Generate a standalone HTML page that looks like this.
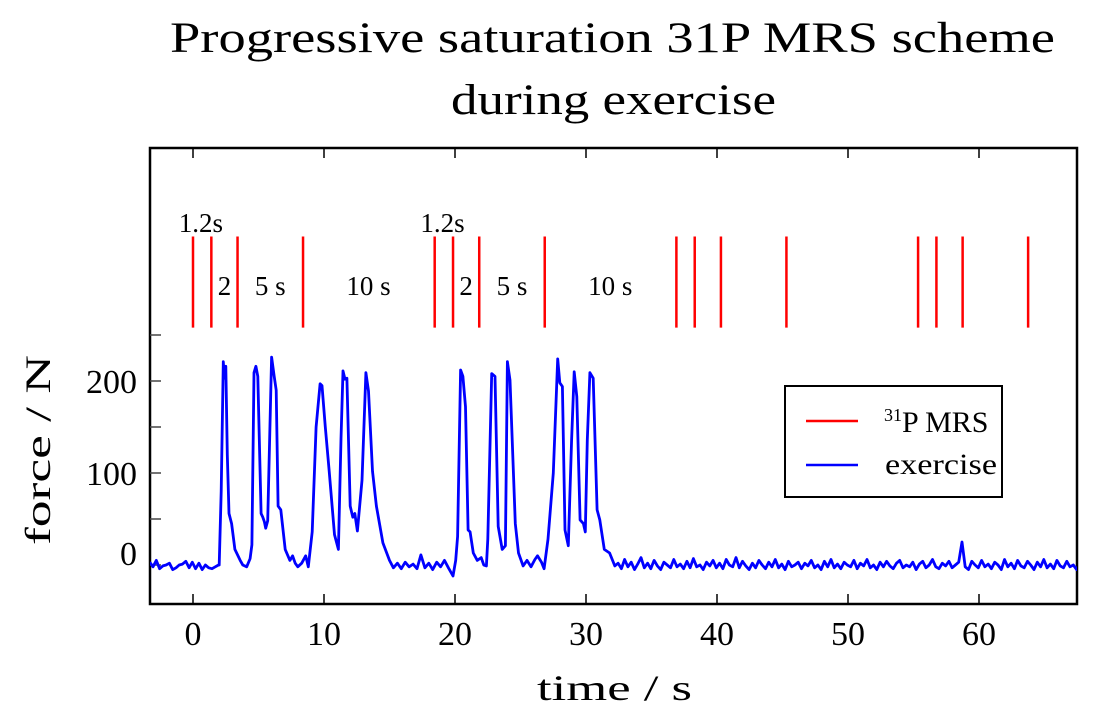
<!DOCTYPE html>
<html><head><meta charset="utf-8"><style>
body{margin:0;background:#fff;}
svg text{font-family:"Liberation Serif",serif;fill:#000;}
</style></head><body>
<svg id="chart" width="1111" height="720" xmlns="http://www.w3.org/2000/svg">
<text x="170" y="52" font-size="43" textLength="885" lengthAdjust="spacingAndGlyphs">Progressive saturation 31P MRS scheme</text>
<text x="451" y="114" font-size="43" textLength="325" lengthAdjust="spacingAndGlyphs">during exercise</text>
<g id="plot"></g>
<text x="537" y="700" font-size="36" textLength="155" lengthAdjust="spacingAndGlyphs">time / s</text>
<text transform="translate(50,545) rotate(-90)" font-size="36" textLength="190" lengthAdjust="spacingAndGlyphs">force / N</text>
<g>
<rect x="785" y="386" width="217" height="111" fill="#fff" stroke="#000" stroke-width="2"/>
<line x1="806" y1="421" x2="858" y2="421" stroke="#f00" stroke-width="2.5"/>
<text x="884" y="432" font-size="30"><tspan font-size="18" dy="-11">31</tspan><tspan dy="11">P MRS</tspan></text>
<line x1="806" y1="465" x2="858" y2="465" stroke="#00f" stroke-width="2.5"/>
<text x="885" y="474" font-size="30" textLength="112" lengthAdjust="spacingAndGlyphs">exercise</text>
</g>
</svg>
<script>
const xTicks = [0,10,20,30,40,50,60];
const yTicks = [0,100,200];
const yMinorTicks = [50,150,250];
const mrsTimes = [0,1.4,3.4,8.4,18.45,19.85,21.85,26.85,36.9,38.3,40.3,45.3,55.35,56.75,58.75,63.75];
const mrsLow = 258, mrsHigh = 357;
const annoTexts = ["1.2s","2","5 s","10 s","1.2s","2","5 s","10 s"];
const annoTimes = [0.6,2.4,5.9,13.4,19.05,20.85,24.35,31.85];
const annoVals = [372,303,303,303,372,303,303,303];
const headStart = -3.3, headStep = 0.25;
const headForce = [3,-2,5,-4,-1,0,2,-5,-3,0,1,4,-3,3,-4,2,-5,0,-3,-4,-2,0];
const mainTimes = [2.0,2.15,2.31,2.4,2.5,2.62,2.75,2.95,3.2,3.6,3.8,4.1,4.36,4.5,4.66,4.8,4.95,5.2,5.33,5.45,5.55,5.7,6.0,6.2,6.35,6.5,6.7,7.04,7.4,7.6,7.8,8.0,8.3,8.6,8.8,9.1,9.4,9.7,9.85,10.1,10.4,10.8,11.1,11.3,11.45,11.6,11.75,12.0,12.2,12.35,12.55,12.9,13.2,13.4,13.7,14.0,14.5,15.0,15.3,15.6,15.9,16.2,16.5,16.8,17.1,17.4,17.7,18.0,18.3,18.6,18.9,19.2,19.5,19.85,20.05,20.2,20.43,20.6,20.8,21.0,21.15,21.4,21.7,22.0,22.2,22.4,22.5,22.8,23.05,23.3,23.6,23.85,24.0,24.2,24.6,24.85,25.2,25.5,25.8,26.1,26.3,26.6,26.8,27.1,27.5,27.84,28.0,28.2,28.4,28.65,28.9,29.1,29.3,29.55,29.8,29.95,30.1,30.3,30.55,30.85,31.05,31.4,31.8,32.2];
const mainForce = [0,80,221,203,216,120,56,45,17,5,0,-2,7,22,209,216,205,56,52,47,40,48,226,205,190,64,60,17,5,10,2,-2,2,10,-2,36,150,197,195,150,102,33,17,137,211,202,203,64,52,56,37,92,209,189,102,64,24,5,-3,2,-4,3,-2,1,-4,11,-3,2,-5,3,-2,5,-3,-12,5,31,212,205,172,38,36,13,5,8,0,-1,28,208,205,42,17,21,221,201,45,13,-1,5,-2,6,10,3,-4,28,100,224,198,194,38,21,136,210,183,49,45,36,136,209,203,60,49,17,13,-1];
const tailStart = 32.45, tailStep = 0.25;
const tailForce = [2,-4,6,-2,3,-5,1,8,-3,2,-4,5,-1,-5,3,0,-3,6,-2,1,-4,4,-3,7,-2,0,-5,3,-1,5,-3,2,-4,6,0,-2,8,-3,4,-1,-5,2,-3,5,0,-4,3,-2,6,-3,1,-5,4,-2,0,3,-4,2,-1,5,-3,0,-5,4,-2,6,-3,1,-4,3,0,-2,5,-4,2,-1,6,-3,0,-5,3,-2,4,-1,-4,2,5,-3,0,-2,3,-5,1,4,-3,0,6,-2,-4,2,-1,4,-3,0,3,25,-2,-5,4,0,-3,5,-2,1,-4,3,0,-5,6,-2,2,-4,5,-1,-3,4,0,-5,3,-2,6,-3,1,-4,5,-1,-3,4,-2,0,-5,3,-2];

const X0 = 150, X1 = 1077, Y0 = 148, Y1 = 604;
const xs = t => 193 + t * 13.1;
const ys = v => 565 - v * 0.92;
const NS = "http://www.w3.org/2000/svg";
const g = document.getElementById('plot');
function mk(tag, attrs){const e=document.createElementNS(NS,tag);for(const k in attrs)e.setAttribute(k,attrs[k]);g.appendChild(e);return e;}

const fr = mk('rect',{x:X0,y:Y0,width:X1-X0,height:Y1-Y0,fill:'none',stroke:'#000','stroke-width':2.5});



xTicks.forEach(t=>{
  const x = xs(t);
  const b = mk('line',{x1:x,y1:Y1,x2:x,y2:Y1-10,stroke:'#000','stroke-width':1.5});
  
  
  const tp = mk('line',{x1:x,y1:Y0,x2:x,y2:Y0+10,stroke:'#000','stroke-width':1.5});
  
  
  const l = mk('text',{x:x,y:645,'font-size':34,'text-anchor':'middle'});
  l.textContent = t;
  
  
});
yTicks.concat(yMinorTicks).forEach(v=>{
  const y = ys(v);
  const tk = mk('line',{x1:X0,y1:y,x2:X0+11,y2:y,stroke:'#444','stroke-width':1.5});
  
  
});
yTicks.forEach(v=>{
  const y = v===0 ? ys(v)-12 : ys(v);
  const l = mk('text',{x:137,y:y+12,'font-size':34,'text-anchor':'end'});
  l.textContent = v;
  
  
});

mrsTimes.forEach(t=>{
  const ln = mk('line',{x1:xs(t),y1:ys(mrsLow),x2:xs(t),y2:ys(mrsHigh),stroke:'#f00','stroke-width':2.5});
  
  
});
annoTexts.forEach((s,i)=>{
  const tx = mk('text',{x:xs(annoTimes[i]),y:ys(annoVals[i])+9,'font-size':27,'text-anchor':'middle'});
  tx.textContent = s;
  
  
});

const pts = [];
headForce.forEach((v,i)=>pts.push([headStart+i*headStep, v]));
mainTimes.forEach((t,i)=>pts.push([t, mainForce[i]]));
tailForce.forEach((v,i)=>pts.push([tailStart+i*tailStep, v]));
const d = pts.map((p,i)=>(i?'L':'M')+xs(p[0]).toFixed(1)+','+ys(p[1]).toFixed(1)).join(' ');
const clip = mk('clipPath',{id:'pc'});
const cr = document.createElementNS(NS,'rect');
cr.setAttribute('x',X0);cr.setAttribute('y',Y0);cr.setAttribute('width',X1-X0);cr.setAttribute('height',Y1-Y0);
clip.appendChild(cr);
const path = mk('path',{d:d,fill:'none',stroke:'#00f','stroke-width':2.8,'stroke-linejoin':'round','clip-path':'url(#pc)'});


</script>
</body></html>
